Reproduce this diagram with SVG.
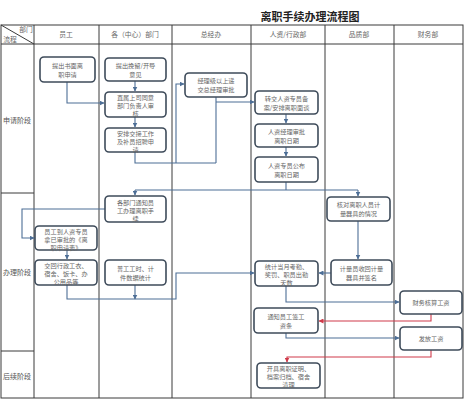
<svg xmlns="http://www.w3.org/2000/svg" width="465" height="400" viewBox="0 0 465 400">
<style>
.grid{stroke:#3a3a3a;stroke-width:1;fill:none}
.hd{font-family:"Noto Sans CJK SC","Liberation Sans",sans-serif;font-size:6.8px;fill:#666;text-anchor:middle}
.stage{font-family:"Noto Sans CJK SC","Liberation Sans",sans-serif;font-size:7px;fill:#555;text-anchor:middle}
.box{fill:#fff;stroke:#3e4b5a;stroke-width:1.6}
.t{font-family:"Noto Sans CJK SC","Liberation Sans",sans-serif;font-size:6.2px;fill:#666;text-anchor:middle}
.c{fill:none;stroke:#4d6e96;stroke-width:1.1}
.r{fill:none;stroke:#d03a4a;stroke-width:1.1}
</style>
<defs>
<marker id="a" viewBox="0 0 10 10" refX="9" refY="5" markerWidth="5" markerHeight="5" orient="auto" markerUnits="userSpaceOnUse"><path d="M0,0 L10,5 L0,10 z" fill="#4d6e96"/></marker>
<marker id="ar" viewBox="0 0 10 10" refX="9" refY="5" markerWidth="5" markerHeight="5" orient="auto" markerUnits="userSpaceOnUse"><path d="M0,0 L10,5 L0,10 z" fill="#d03a4a"/></marker>
</defs>
<rect width="465" height="400" fill="#fff"/>
<text x="310" y="21" font-family="Noto Sans CJK SC,Liberation Sans,sans-serif" font-size="11" font-weight="bold" fill="#222" text-anchor="middle">离职手续办理流程图</text>
<g id="table">
<rect class="grid" x="1" y="25" width="462" height="373"/>
<line class="grid" x1="1" y1="44" x2="463" y2="44"/>
<line class="grid" x1="34" y1="25" x2="34" y2="398"/>
<line class="grid" x1="99" y1="25" x2="99" y2="398"/>
<line class="grid" x1="172" y1="25" x2="172" y2="398"/>
<line class="grid" x1="251" y1="25" x2="251" y2="398"/>
<line class="grid" x1="325" y1="25" x2="325" y2="398"/>
<line class="grid" x1="394" y1="25" x2="394" y2="398"/>
<line class="grid" x1="1" y1="193" x2="34" y2="193"/>
<line class="grid" x1="1" y1="351" x2="34" y2="351"/>
<line class="grid" x1="1" y1="25" x2="34" y2="44"/>
<text class="hd" x="26" y="32">部门</text>
<text class="hd" x="10" y="42">流程</text>
<text class="hd" x="66" y="37">员工</text>
<text class="hd" x="135" y="37">各（中心）部门</text>
<text class="hd" x="211" y="37">总经办</text>
<text class="hd" x="288" y="37">人资/行政部</text>
<text class="hd" x="359" y="37">品质部</text>
<text class="hd" x="428" y="37">财务部</text>
<text class="stage" x="17" y="123">申请阶段</text>
<text class="stage" x="17" y="275">办理阶段</text>
<text class="stage" x="17" y="379">后续阶段</text>
</g>
<g id="connectors">
<path class="c" d="M67,82 V103 H104" marker-end="url(#a)"/>
<path class="c" d="M135,81 V91" marker-end="url(#a)"/>
<path class="c" d="M135,117 V127" marker-end="url(#a)"/>
<path class="c" d="M135,152 V163 H216"/>
<path class="c" d="M176,163 V84 H184" marker-end="url(#a)"/>
<path class="c" d="M216,97 V163"/>
<path class="c" d="M216,102 H254" marker-end="url(#a)"/>
<path class="c" d="M286,114 V123" marker-end="url(#a)"/>
<path class="c" d="M286,147 V156" marker-end="url(#a)"/>
<path class="c" d="M286,182 V190"/>
<path class="c" d="M135,190 H358"/>
<path class="c" d="M135,190 V195" marker-end="url(#a)"/>
<path class="c" d="M358,190 V196" marker-end="url(#a)"/>
<path class="c" d="M105,209 H22 V238 H34" marker-end="url(#a)"/>
<path class="c" d="M67,250 V259" marker-end="url(#a)"/>
<path class="c" d="M67,285 V299 H176 V273 H254" marker-end="url(#a)"/>
<path class="c" d="M135,285 V299" marker-end="url(#a)"/>
<path class="c" d="M358,221 V259" marker-end="url(#a)"/>
<path class="c" d="M331,273 H319" marker-end="url(#a)"/>
<path class="c" d="M286,286 V302 H399" marker-end="url(#a)"/>
<path class="r" d="M431,314 V321 H319" marker-end="url(#ar)"/>
<path class="c" d="M286,333 V338 H399" marker-end="url(#a)"/>
<path class="r" d="M431,350 V357 H287 V362" marker-end="url(#ar)"/>
</g>
<g id="n1"><rect class="box" x="40" y="57" width="55" height="25" rx="4"/><text class="t" x="67.5" y="68">提出书面离</text><text class="t" x="67.5" y="77">职申请</text></g>
<g id="n2"><rect class="box" x="105" y="58" width="61" height="23" rx="4"/><text class="t" x="135.5" y="68">提出挽留/开导</text><text class="t" x="135.5" y="77">意见</text></g>
<g id="n3"><rect class="box" x="105" y="92" width="61" height="25" rx="4"/><text class="t" x="135.5" y="100">直属上司同意</text><text class="t" x="135.5" y="108">部门负责人审</text><text class="t" x="135.5" y="116">核</text></g>
<g id="n4"><rect class="box" x="105" y="128" width="61" height="24" rx="4"/><text class="t" x="135.5" y="136">安排交接工作</text><text class="t" x="135.5" y="144">及补员招聘申</text><text class="t" x="135.5" y="152">请</text></g>
<g id="n5"><rect class="box" x="185" y="73" width="62" height="24" rx="4"/><text class="t" x="216" y="83">经理级以上递</text><text class="t" x="216" y="92">交总经理审批</text></g>
<g id="n6"><rect class="box" x="255" y="91" width="63" height="23" rx="4"/><text class="t" x="286.5" y="101">转交人资专员备</text><text class="t" x="286.5" y="110">案/安排离职面谈</text></g>
<g id="n7"><rect class="box" x="255" y="124" width="63" height="23" rx="4"/><text class="t" x="286.5" y="134">人资经理审批</text><text class="t" x="286.5" y="143">离职日期</text></g>
<g id="n8"><rect class="box" x="255" y="157" width="63" height="25" rx="4"/><text class="t" x="286.5" y="168">人资专员公布</text><text class="t" x="286.5" y="177">离职日期</text></g>
<g id="n9"><rect class="box" x="105" y="196" width="61" height="26" rx="4"/><text class="t" x="135.5" y="205">各部门通知员</text><text class="t" x="135.5" y="213">工办理离职手</text><text class="t" x="135.5" y="221">续</text></g>
<g id="n10"><rect class="box" x="327" y="197" width="63" height="24" rx="4"/><text class="t" x="358.5" y="207">核对离职人员计</text><text class="t" x="358.5" y="216">量器具的情况</text></g>
<g id="n11"><rect class="box" x="35" y="226" width="62" height="24" rx="4"/><text class="t" x="66" y="234">员工到人资专员</text><text class="t" x="66" y="242">拿已审批的《离</text><text class="t" x="66" y="250">职申请表》</text></g>
<g id="n12"><rect class="box" x="35" y="260" width="62" height="25" rx="4"/><text class="t" x="66" y="268">交回行政工衣、</text><text class="t" x="66" y="276">宿舍、饭卡、办</text><text class="t" x="66" y="284">公用品等</text></g>
<g id="n13"><rect class="box" x="105" y="260" width="61" height="25" rx="4"/><text class="t" x="135.5" y="271">普工工时、计</text><text class="t" x="135.5" y="280">件数据统计</text></g>
<g id="n14"><rect class="box" x="255" y="261" width="63" height="25" rx="4"/><text class="t" x="286.5" y="269">统计当月考勤、</text><text class="t" x="286.5" y="277">奖罚、职员出勤</text><text class="t" x="286.5" y="285">天数</text></g>
<g id="n15"><rect class="box" x="331" y="260" width="61" height="25" rx="4"/><text class="t" x="361.5" y="271">计量员收回计量</text><text class="t" x="361.5" y="280">器具并签名</text></g>
<g id="n16"><rect class="box" x="400" y="291" width="62" height="23" rx="4"/><text class="t" x="431" y="305">财务核算工资</text></g>
<g id="n17"><rect class="box" x="254" y="308" width="64" height="25" rx="4"/><text class="t" x="286" y="319">通知员工签工</text><text class="t" x="286" y="328">资条</text></g>
<g id="n18"><rect class="box" x="400" y="327" width="62" height="23" rx="4"/><text class="t" x="431" y="341">发放工资</text></g>
<g id="n19"><rect class="box" x="257" y="363" width="63" height="25" rx="4"/><text class="t" x="288.5" y="371">开具离职证明、</text><text class="t" x="288.5" y="379">档案归档、宿舍</text><text class="t" x="288.5" y="387">清理</text></g>
</svg>
